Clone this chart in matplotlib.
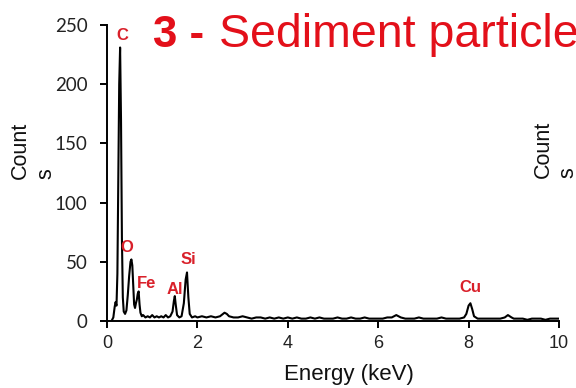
import matplotlib
matplotlib.use("Agg")
import matplotlib.pyplot as plt

# ---- data ----
energy_low = [0.10, 0.14, 0.17, 0.19, 0.21, 0.23, 0.25, 0.27, 0.29, 0.31, 0.33, 0.35,
              0.37, 0.40, 0.43, 0.46, 0.49, 0.52, 0.54, 0.56, 0.58, 0.60, 0.62, 0.64,
              0.66, 0.68, 0.70, 0.72, 0.74, 0.77, 0.80, 0.85, 0.90, 0.95, 1.00, 1.05,
              1.10, 1.15, 1.20, 1.25, 1.30, 1.35, 1.40, 1.45, 1.48, 1.50, 1.52, 1.55,
              1.60, 1.65, 1.70, 1.74, 1.77, 1.80, 1.83, 1.88, 1.95]
counts_low = [0, 3, 12, 16, 13, 40, 120, 200, 231, 170, 70, 20,
              8, 6, 9, 22, 38, 50, 52, 47, 30, 14, 11, 15,
              18, 23, 25, 14, 7, 4, 5, 3, 4, 3, 5, 3,
              4, 3, 4, 3, 5, 3, 4, 8, 17, 21, 14, 5,
              3, 4, 15, 35, 41, 20, 6, 3, 4]

energy_high = [2.0, 2.1, 2.2, 2.3, 2.4, 2.5, 2.6, 2.65, 2.7, 2.8, 2.9, 3.0, 3.1, 3.2,
               3.3, 3.4, 3.5, 3.6, 3.7, 3.8, 3.9, 4.0, 4.1, 4.2, 4.3, 4.4, 4.5, 4.6,
               4.7, 4.8, 4.9, 5.0, 5.1, 5.2, 5.3, 5.4, 5.5, 5.6, 5.7, 5.8, 5.9, 6.0,
               6.1, 6.2, 6.3, 6.4, 6.5, 6.6, 6.7, 6.8, 6.9, 7.0, 7.1, 7.2, 7.3, 7.4,
               7.5, 7.6, 7.7, 7.8, 7.9, 7.95, 8.0, 8.04, 8.08, 8.12, 8.2, 8.3, 8.4,
               8.5, 8.6, 8.7, 8.8, 8.87, 8.95, 9.0, 9.1, 9.2, 9.3, 9.4, 9.5, 9.6,
               9.7, 9.8, 9.9, 10.0]
counts_high = [3, 4, 3, 4, 3, 4, 7, 6, 4, 3, 3, 4, 3, 2,
               3, 3, 2, 3, 2, 3, 2, 3, 2, 3, 2, 2, 3, 2,
               3, 2, 2, 2, 3, 2, 2, 3, 2, 2, 3, 2, 2, 2,
               2, 3, 3, 5, 3, 2, 2, 2, 3, 2, 2, 2, 2, 3,
               2, 2, 2, 2, 3, 6, 13, 15, 10, 4, 2, 2, 2,
               2, 2, 2, 3, 5, 3, 2, 2, 2, 1, 2, 2, 2,
               1, 2, 2, 2]

peak_labels = ["C", "O", "Fe", "Al", "Si", "Cu"]
peak_label_x = [0.33, 0.44, 0.88, 1.50, 1.81, 8.03]
peak_label_y = [241, 62, 32, 27, 52, 28]

x_ticks = [0, 2, 4, 6, 8, 10]
y_ticks = [0, 50, 100, 150, 200, 250]

RED = "#E3101A"
LABEL_RED = "#D9202A"

W, H = 576, 388
fig = plt.figure(figsize=(W / 100, H / 100), dpi=100)
ax = fig.add_axes([107 / W, (H - 321) / H, (559 - 107) / W, (321 - 25) / H])

ax.plot(energy_low + energy_high, counts_low + counts_high, color="black", lw=1.5)

ax.set_xlim(0, 10)
ax.set_ylim(0, 250)
ax.set_xticks(x_ticks)
ax.set_yticks(y_ticks)
for s in ["top", "right"]:
    ax.spines[s].set_visible(False)
for s in ["left", "bottom"]:
    ax.spines[s].set_linewidth(1.4)
ax.tick_params(axis="both", direction="out", length=5, width=1.4, colors="black")
ax.tick_params(axis="x", pad=5, labelsize=13)
ax.tick_params(axis="y", pad=9)
for lab in ax.get_xticklabels():
    lab.set_fontfamily("Liberation Sans")
    lab.set_fontsize(13)
    lab.set_color("#222222")
for lab in ax.get_yticklabels():
    lab.set_fontfamily("Lato")
    lab.set_fontsize(13.5)
    lab.set_color("#222222")

for t, x, y in zip(peak_labels, peak_label_x, peak_label_y):
    ax.text(x, y, t, color=LABEL_RED, fontsize=12, fontweight="bold",
            family="Liberation Sans", ha="center", va="center")

# axis labels
fig.text(349 / W, (H - 380) / H, "Energy (keV)", family="Liberation Sans",
         fontsize=16, ha="center", va="baseline", color="#111111")
fig.text(10 / W, (H - 179) / H, "Count\ns", family="Liberation Sans", fontsize=15.5,
         rotation=90, ha="left", va="bottom", multialignment="left",
         linespacing=1.3, color="#111111")
# neighbouring panel's label (cut by figure edge)
fig.text(533 / W, (H - 178) / H, "Count\ns", family="Liberation Sans", fontsize=15.5,
         rotation=90, ha="left", va="bottom", multialignment="left",
         linespacing=1.2, color="#111111")

# title
fig.text(153 / W, (H - 47) / H, "3 -", family="Liberation Sans", fontsize=31.5,
         fontweight="bold", color=RED, ha="left", va="baseline")
fig.text(219 / W, (H - 47) / H, "Sediment particle", family="Liberation Sans",
         fontsize=33.5, color=RED, ha="left", va="baseline")

fig.savefig("out.png", dpi=100)
